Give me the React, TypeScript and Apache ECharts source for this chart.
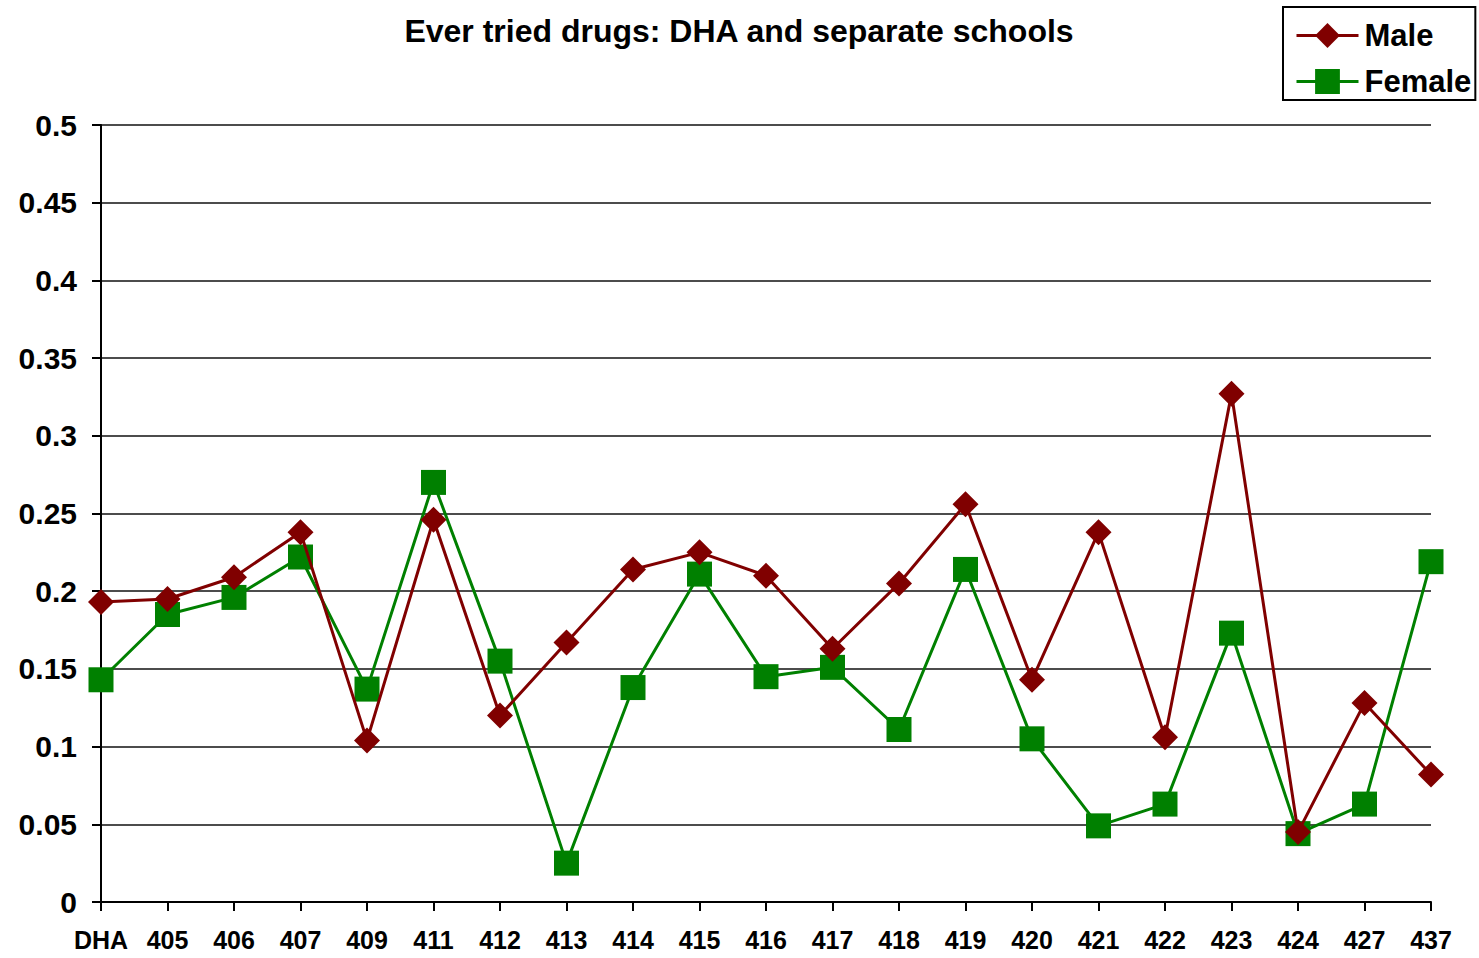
import React, { useEffect, useRef } from "react";
import * as echarts from "echarts";

const categories = ["DHA", "405", "406", "407", "409", "411", "412", "413", "414", "415", "416", "417", "418", "419", "420", "421", "422", "423", "424", "427", "437"];
const maleValues = [0.193, 0.195, 0.209, 0.238, 0.104, 0.246, 0.12, 0.167, 0.214, 0.225, 0.21, 0.163, 0.205, 0.256, 0.143, 0.238, 0.106, 0.327, 0.045, 0.128, 0.082];
const femaleValues = [0.143, 0.185, 0.196, 0.222, 0.137, 0.27, 0.155, 0.025, 0.138, 0.211, 0.145, 0.151, 0.111, 0.214, 0.105, 0.049, 0.063, 0.173, 0.044, 0.063, 0.219];
const titleText = "Ever tried drugs: DHA and separate schools";

const FONT = "'Liberation Sans', Arial, sans-serif";

export default function App() {
  const ref = useRef<HTMLDivElement>(null);
  useEffect(() => {
    if (!ref.current) return;
    const chart = echarts.init(ref.current, null, { renderer: "svg" });
    chart.setOption({
      animation: false,
      backgroundColor: "#fff",
      title: {
        text: titleText,
        left: 734,
        textAlign: "center",
        top: 10,
        textStyle: { fontFamily: FONT, fontWeight: "bold", fontSize: 32, color: "#000" },
      },
      legend: {
        orient: "vertical",
        left: 1283,
        top: 7,
        padding: [13, 4, 3, 12],
        itemGap: 15,
        itemWidth: 62,
        itemHeight: 31,
        borderColor: "#000",
        borderWidth: 2,
        backgroundColor: "#fff",
        lineStyle: { width: 3 },
        textStyle: { fontFamily: FONT, fontWeight: "bold", fontSize: 31, color: "#000", padding: [0, 0, 0, 1] },
        data: ["Male", "Female"],
      },
      grid: { left: 101, right: 48, top: 125, bottom: 56 },
      xAxis: {
        type: "category",
        data: categories,
        boundaryGap: false,
        axisLine: { lineStyle: { color: "#000", width: 2 } },
        axisTick: { show: true, length: 9, alignWithLabel: true, lineStyle: { color: "#000", width: 2 } },
        axisLabel: { interval: 0, margin: 25, fontFamily: FONT, fontWeight: "bold", fontSize: 25, color: "#000" },
        splitLine: { show: false },
      },
      yAxis: {
        type: "value",
        min: 0,
        max: 0.5,
        interval: 0.05,
        axisLine: { show: true, lineStyle: { color: "#000", width: 2 } },
        axisTick: { show: true, length: 9, lineStyle: { color: "#000", width: 2 } },
        axisLabel: { margin: 24, fontFamily: FONT, fontWeight: "bold", fontSize: 30, color: "#000" },
        splitLine: { show: true, lineStyle: { color: "#111", width: 1.5 } },
      },
      series: [
        {
          name: "Male",
          type: "line",
          data: maleValues,
          symbol: "diamond",
          symbolSize: 26,
          lineStyle: { color: "#800000", width: 3 },
          itemStyle: { color: "#800000" },
          z: 3,
        },
        {
          name: "Female",
          type: "line",
          data: femaleValues,
          symbol: "rect",
          symbolSize: 25,
          lineStyle: { color: "#008000", width: 3 },
          itemStyle: { color: "#008000" },
          z: 2,
        },
      ],
    });
    return () => chart.dispose();
  }, []);
  return (
    <div
      ref={ref}
      style={{ position: "fixed", left: 0, top: 0, width: 1479, height: 958, background: "#fff" }}
    />
  );
}
